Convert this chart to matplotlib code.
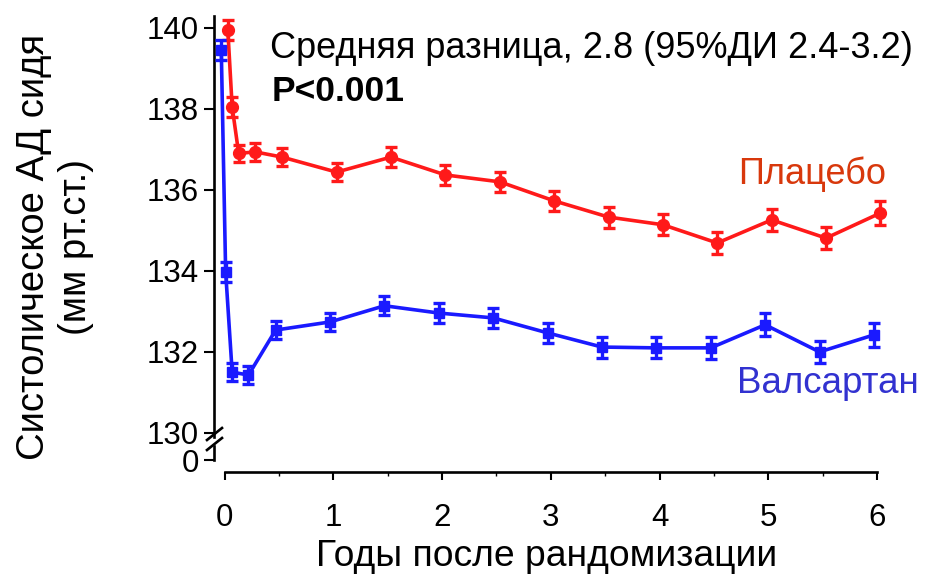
import numpy as np
import matplotlib.pyplot as plt
from matplotlib.lines import Line2D

plt.rcParams['font.family'] = ['Liberation Sans', 'DejaVu Sans']

# data
years = [0, 0.04, 0.1, 0.25, 0.5, 1, 1.5, 2, 2.5, 3, 3.5, 4, 4.5, 5, 5.5, 6]
placebo = [139.95, 138.05, 136.9, 136.94, 136.81, 136.44, 136.81, 136.37,
           136.2, 135.73, 135.33, 135.14, 134.69, 135.26, 134.81, 135.43]
placebo_err = [0.25, 0.25, 0.22, 0.22, 0.22, 0.22, 0.24, 0.24,
               0.25, 0.25, 0.26, 0.26, 0.27, 0.28, 0.28, 0.3]
valsartan = [139.45, 133.98, 131.5, 131.43, 132.54, 132.74, 133.14, 132.96,
             132.84, 132.47, 132.12, 132.1, 132.1, 132.67, 132.0, 132.42]
valsartan_err = [0.25, 0.25, 0.22, 0.22, 0.22, 0.22, 0.24, 0.24,
                 0.25, 0.25, 0.26, 0.26, 0.27, 0.28, 0.28, 0.3]
x_ticks = [0, 1, 2, 3, 4, 5, 6]
y_ticks = [130, 132, 134, 136, 138, 140]

RED = '#ff1a1a'
BLUE = '#1a1aff'
dodge = 0.03

W, H = 931, 580
fig = plt.figure(figsize=(W / 100, H / 100), dpi=100)

ax = fig.add_axes([214 / W, 0.2466, 686 / W, 0.7297])
ax0 = fig.add_axes([214 / W, 0.1862, 686 / W, 0.0448])

xlim = (-0.097, 6.21)
for a in (ax, ax0):
    a.set_xlim(*xlim)
    for s in ('top', 'right'):
        a.spines[s].set_visible(False)
    a.spines['left'].set_linewidth(1.9)
    a.spines['bottom'].set_linewidth(1.9)
    a.patch.set_alpha(0)

ax.set_ylim(129.9, 140.35)
ax.spines['bottom'].set_visible(False)
ax.spines['left'].set_bounds(129.9, 140.3)
ax.set_xticks([])
ax.set_yticks(y_ticks)
ax.tick_params(axis='y', direction='out', length=7, width=1.5, labelsize=22.5, pad=4)

ax0.set_ylim(-0.3, 0.35)
ax0.spines['left'].set_bounds(0, 0.35)
ax0.spines['bottom'].set_bounds(0, 6)
ax0.set_yticks([0])
ax0.set_xticks(x_ticks)
ax0.set_xticks(np.arange(0.5, 6, 1), minor=True)
ax0.tick_params(axis='y', direction='out', length=7, width=1.5, labelsize=22.5, pad=4)
ax0.tick_params(axis='x', which='major', direction='out', length=6, width=1.5,
                labelsize=22.5, pad=16)
ax0.tick_params(axis='x', which='minor', direction='out', length=3, width=1)

x = np.array(years)
ax.errorbar(x + dodge, placebo, yerr=placebo_err, color=RED, lw=2.6, marker='o',
            ms=8.5, elinewidth=2.4, capsize=4.5, capthick=2.4, clip_on=False, zorder=3)
ax.errorbar(x - dodge, valsartan, yerr=valsartan_err, color=BLUE, lw=2.6, marker='s',
            ms=7.5, elinewidth=2.4, capsize=4.5, capthick=2.4, clip_on=False, zorder=3)

# axis break marks
for y0 in (440, 450):
    fig.add_artist(Line2D([207 / W, 222 / W], [1 - y0 / H, 1 - (y0 - 12) / H],
                          color='black', lw=1.9))

fig.text(270 / W, 1 - 58 / H, 'Средняя разница, 2.8 (95%ДИ 2.4-3.2)',
         fontsize=26, va='baseline', ha='left')
fig.text(272 / W, 1 - 101 / H, 'P<0.001', fontsize=25.5, fontweight='bold',
         va='baseline', ha='left')
fig.text(738 / W, 1 - 184 / H, 'Плацебо', fontsize=26, color='#d8380c',
         va='baseline', ha='left')
fig.text(737 / W, 1 - 393 / H, 'Валсартан', fontsize=26.5, color='#3232d0',
         va='baseline', ha='left')

fig.text(547 / W, 1 - 557 / H, 'Годы после рандомизации', fontsize=26.8,
         ha='center', va='center')
fig.text(55 / W, 1 - 247 / H, 'Систолическое АД сидя\n(мм рт.ст.)', fontsize=27.5,
         rotation=90, ha='center', va='center', multialignment='center',
         linespacing=1.2)

fig.savefig('out.png', dpi=100)
